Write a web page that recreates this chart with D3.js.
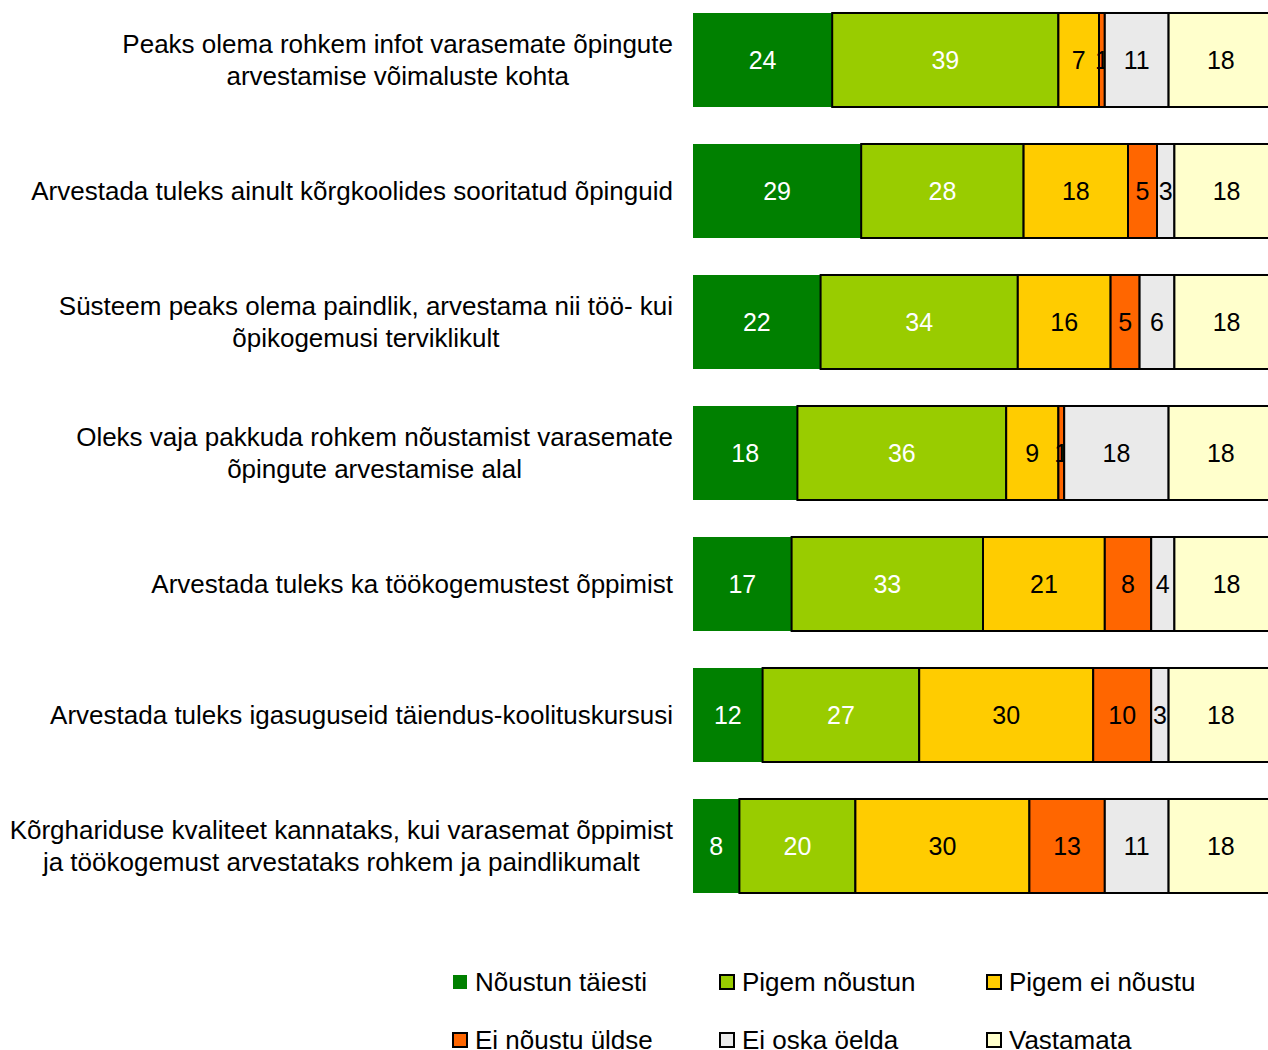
<!DOCTYPE html>
<html><head><meta charset="utf-8">
<script src="https://cdn.jsdelivr.net/npm/d3@7"></script>
<style>body{margin:0;background:#fff;}svg{display:block;font-family:"Liberation Sans",Arial,sans-serif;}</style>
</head><body>
<svg id="c" width="1268" height="1050"></svg>
<script>
const categories = [
  ["Peaks olema rohkem infot varasemate õpingute", "arvestamise võimaluste kohta"],
  ["Arvestada tuleks ainult kõrgkoolides sooritatud õpinguid"],
  ["Süsteem peaks olema paindlik, arvestama nii töö- kui", "õpikogemusi terviklikult"],
  ["Oleks vaja pakkuda rohkem nõustamist varasemate", "õpingute arvestamise alal"],
  ["Arvestada tuleks ka töökogemustest õppimist"],
  ["Arvestada tuleks igasuguseid täiendus-koolituskursusi"],
  ["Kõrghariduse kvaliteet kannataks, kui varasemat õppimist", "ja töökogemust arvestataks rohkem ja paindlikumalt"]
];
const seriesNames = ["Nõustun täiesti", "Pigem nõustun", "Pigem ei nõustu", "Ei nõustu üldse", "Ei oska öelda", "Vastamata"];
const noustunTaiesti = [24, 29, 22, 18, 17, 12, 8];
const pigemNoustun   = [39, 28, 34, 36, 33, 27, 20];
const pigemEiNoustu  = [7, 18, 16, 9, 21, 30, 30];
const eiNoustuYldse  = [1, 5, 5, 1, 8, 10, 13];
const eiOskaOelda    = [11, 3, 6, 18, 4, 3, 11];
const vastamata      = [18, 18, 18, 18, 18, 18, 18];
const colors = ["#008000", "#99CC00", "#FFCC00", "#FF6600", "#EAEAEA", "#FFFFCC"];
const textColors = ["#fff", "#fff", "#000", "#000", "#000", "#000"];

const seriesVals = [noustunTaiesti, pigemNoustun, pigemEiNoustu, eiNoustuYldse, eiOskaOelda, vastamata];
const data = categories.map((c, i) => {
  const o = {idx: i};
  seriesNames.forEach((s, j) => o[s] = seriesVals[j][i]);
  return o;
});
const stacked = d3.stack().keys(seriesNames)(data);

const svg = d3.select("#c");
const x = d3.scaleLinear().domain([0, 100]).range([693, 1273]);
const pi = 0.2824, po = 0.0992, step = 131;
const y = d3.scaleBand().domain(d3.range(categories.length))
  .range([0, step * (categories.length - pi + 2 * po)]).paddingInner(pi).paddingOuter(po);

stacked.forEach((layer, j) => {
  const g = svg.append("g");
  layer.forEach((d, i) => {
    const x0 = x(d[0]), x1 = x(d[1]);
    const r = g.append("rect")
      .attr("x", x0).attr("y", y(i))
      .attr("width", x1 - x0).attr("height", y.bandwidth())
      .attr("fill", colors[j]);
    if (j > 0) r.attr("stroke", "#000").attr("stroke-width", 2);
    g.append("text")
      .attr("x", (x0 + x1) / 2).attr("y", y(i) + y.bandwidth() / 2)
      .attr("dy", "0.36em").attr("text-anchor", "middle")
      .attr("font-size", 25).attr("fill", textColors[j])
      .text(d[1] - d[0]);
  });
});

// category labels
const labelSize = 26;
categories.forEach((lines, i) => {
  const cy = y(i) + y.bandwidth() / 2;
  const lh = 32;
  const widths = lines.map(l => {
    const s = svg.append("text").attr("font-size", labelSize).text(l);
    const w = s.node().getComputedTextLength(); s.remove(); return w;
  });
  const center = 673 - d3.max(widths) / 2;
  const t = svg.append("text").attr("font-size", labelSize).attr("fill", "#000").attr("text-anchor", "middle");
  lines.forEach((l, k) => {
    t.append("tspan").attr("x", center)
      .attr("y", cy + (k - (lines.length - 1) / 2) * lh).attr("dy", "0.36em").text(l);
  });
});

// legend
const legX = [453, 720, 987], legY = [982, 1040];
seriesNames.forEach((s, j) => {
  const lx = legX[j % 3], ly = legY[Math.floor(j / 3)];
  const r = svg.append("rect").attr("x", lx).attr("y", ly - 7).attr("width", 14).attr("height", 14).attr("fill", colors[j]);
  if (j > 0) r.attr("stroke", "#000").attr("stroke-width", 2);
  svg.append("text").attr("x", lx + 22).attr("y", ly).attr("dy", "0.36em")
    .attr("font-size", 26).text(s);
});
</script>
</body></html>
